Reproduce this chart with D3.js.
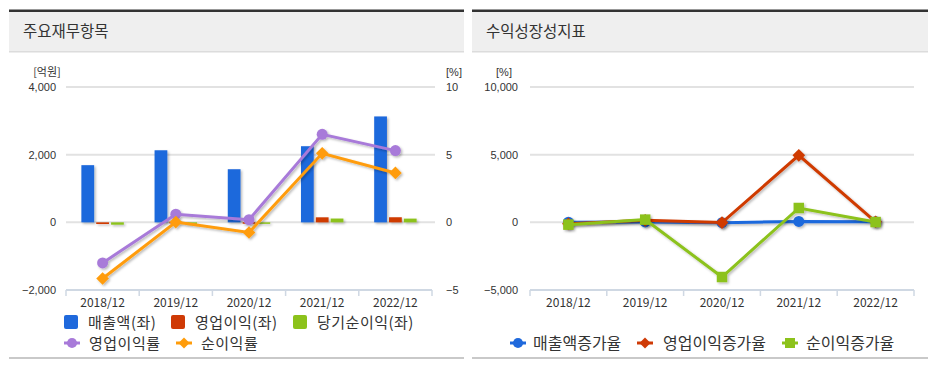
<!DOCTYPE html>
<html><head><meta charset="utf-8">
<script src="https://cdn.jsdelivr.net/npm/d3@7"></script>
<style>
html,body{margin:0;padding:0;background:#fff;}
svg{display:block;font-family:"Noto Sans CJK KR","Noto Sans",sans-serif;}
</style></head>
<body><svg id="c" width="930" height="366"></svg>
<script>
const categories = ['2018/12','2019/12','2020/12','2021/12','2022/12'];
// left panel (억원)
const revenue   = [1690, 2130, 1570, 2250, 3130];
const opIncome  = [-50, 12, 3, 148, 150];
const netIncome = [-70, 0, -12, 112, 110];
// left panel (%)
const opMargin  = [-3.0, 0.6, 0.2, 6.5, 5.3];
const netMargin = [-4.15, 0.02, -0.75, 5.1, 3.65];
const leftTicks  = [-2000, 0, 2000, 4000];
const rightTicks = [-5, 0, 5, 10];
// right panel (%)
const revGrowth = [10, 26, -26, 70, 39];
const opGrowth  = [-110, 150, -20, 4950, 40];
const netGrowth = [-170, 200, -4040, 1060, 20];
const growthTicks = [-5000, 0, 5000, 10000];

const C = {blue:'#1f69dc', red:'#cf3a06', green:'#8cc21b', purple:'#a87ad9', orange:'#ff9c0a'};
const svg = d3.select('#c');
const defs = svg.append('defs');
const f = defs.append('filter').attr('id','sh').attr('x','-30%').attr('y','-30%').attr('width','160%').attr('height','160%');
f.append('feDropShadow').attr('dx',1.5).attr('dy',1.5).attr('stdDeviation',1).attr('flood-color','#000').attr('flood-opacity',0.28);

function panel(x0, x1, title){
  const g = svg.append('g');
  g.append('rect').attr('x',x0).attr('y',12).attr('width',x1-x0).attr('height',40).attr('fill','#efefef');
  g.append('rect').attr('x',x0).attr('y',9.5).attr('width',x1-x0).attr('height',2.5).attr('fill','#333');
  g.append('rect').attr('x',x0).attr('y',51).attr('width',x1-x0).attr('height',1.5).attr('fill','#dcdcdc');
  g.append('rect').attr('x',x0).attr('y',357).attr('width',x1-x0).attr('height',2).attr('fill','#c9c9c9');
  g.append('text').attr('x',x0+14).attr('y',37).attr('font-size',15.5).attr('fill','#333').text(title);
}
panel(9, 464, '주요재무항목');
panel(472, 928, '수익성장성지표');

function xAxis(x, yBase){
  const g = svg.append('g');
  g.append('line').attr('x1',x.range()[0]).attr('x2',x.range()[1]).attr('y1',yBase).attr('y2',yBase)
    .attr('stroke','#cfd8e3').attr('stroke-width',2);
  const bounds = categories.map(c=>x(c)).concat([x.range()[1]]);
  g.selectAll('.tk').data(bounds).join('line').attr('x1',d=>d).attr('x2',d=>d)
    .attr('y1',yBase).attr('y2',yBase+6).attr('stroke','#cfd8e3').attr('stroke-width',1.5);
  g.selectAll('.lb').data(categories).join('text').attr('x',d=>x(d)+x.bandwidth()/2).attr('y',yBase+17)
    .attr('text-anchor','middle').attr('font-size',12).attr('fill','#333').text(d=>d);
}
function grid(y, ticks, xr){
  svg.append('g').selectAll('line').data(ticks.filter(t=>t!==ticks[0])).join('line')
    .attr('x1',xr[0]).attr('x2',xr[1]).attr('y1',d=>y(d)).attr('y2',d=>y(d))
    .attr('stroke','#e2e2e2').attr('stroke-width',2);
}
const fmt = d3.format(',');
const tickFont = '"Liberation Sans",Arial,sans-serif';

// marker shapes
function markerPath(shape, s){
  if(shape==='circle') return d3.symbol().type(d3.symbolCircle).size(s)();
  if(shape==='square') return d3.symbol().type(d3.symbolSquare).size(s)();
  const h = Math.sqrt(s*2)/2; // diamond = rotated square
  return `M0,${-h}L${h},0L0,${h}L${-h},0Z`;
}
const mSize = {circle:95, square:110, diamond:80};

// ---------- LEFT ----------
const xL = d3.scaleBand().domain(categories).range([66, 432]);
const yL = d3.scaleLinear().domain([-2000, 4000]).range([290, 87]);
const yLR = d3.scaleLinear().domain([-5, 10]).range([290, 87]);
grid(yL, leftTicks, [66, 435]);
xAxis(xL, 290);
svg.append('g').selectAll('text').data(leftTicks).join('text').attr('x',56).attr('y',d=>yL(d)+4)
  .attr('text-anchor','end').attr('font-size',11).attr('font-family',tickFont).attr('fill','#333').text(d=>fmt(d));
svg.append('g').selectAll('text').data(rightTicks).join('text').attr('x',446).attr('y',d=>yLR(d)+4)
  .attr('text-anchor','start').attr('font-size',11).attr('font-family',tickFont).attr('fill','#333').text(d=>fmt(d));
svg.append('text').attr('x',47).attr('y',76).attr('text-anchor','middle').attr('font-size',11).attr('fill','#333').text('[억원]');
svg.append('text').attr('x',454).attr('y',76).attr('text-anchor','middle').attr('font-size',11).attr('font-family',tickFont).attr('fill','#333').text('[%]');

const barSeries = [{v:revenue,c:C.blue},{v:opIncome,c:C.red},{v:netIncome,c:C.green}];
const bw = xL.bandwidth();
const xi = d3.scaleBand().domain([0,1,2]).range([bw*0.21, bw*0.79]).paddingInner(0.14);
const bars = svg.append('g').attr('filter','url(#sh)');
barSeries.forEach((s,si)=>{
  bars.selectAll(null).data(s.v).join('rect')
    .attr('x',(d,i)=>xL(categories[i])+xi(si)).attr('width',xi.bandwidth())
    .attr('y',d=>Math.min(yL(d),yL(0))).attr('height',d=>Math.max(1.5,Math.abs(yL(d)-yL(0))))
    .attr('fill',s.c);
});
const cx = (d,i)=>xL(categories[i])+bw/2;
function lineSeries(vals, y, color, shape, xs){
  const g = svg.append('g').attr('filter','url(#sh)');
  const line = d3.line().x((d,i)=>xs(d,i)).y(d=>y(d));
  g.append('path').attr('d',line(vals)).attr('fill','none').attr('stroke',color).attr('stroke-width',3);
  g.selectAll(null).data(vals).join('path')
    .attr('transform',(d,i)=>`translate(${xs(d,i)},${y(d)})`)
    .attr('d',markerPath(shape, mSize[shape]))
    .attr('fill',color);
}
lineSeries(opMargin, yLR, C.purple, 'circle', cx);
lineSeries(netMargin, yLR, C.orange, 'diamond', cx);

// legend
function legendSquare(x, y, color, label){
  svg.append('rect').attr('x',x).attr('y',y-7).attr('width',14).attr('height',14).attr('rx',2).attr('fill',color);
  svg.append('text').attr('x',x+24).attr('y',y+5.5).attr('font-size',15).attr('letter-spacing',0.5).attr('fill','#333').text(label);
}
function legendLine(x, y, color, shape, label, tx, fs){
  svg.append('line').attr('x1',x).attr('x2',x+16).attr('y1',y).attr('y2',y).attr('stroke',color).attr('stroke-width',3);
  svg.append('path').attr('transform',`translate(${x+8},${y})`)
    .attr('d',markerPath(shape, shape==='circle'?80:(shape==='square'?100:60))).attr('fill',color);
  svg.append('text').attr('x',x+(tx||25)).attr('y',y+5.5).attr('font-size',fs||15).attr('letter-spacing',fs?0:0.5).attr('fill','#333').text(label);
}
legendSquare(64, 322, C.blue, '매출액(좌)');
legendSquare(171, 322, C.red, '영업이익(좌)');
legendSquare(293, 322, C.green, '당기순이익(좌)');
legendLine(64, 343, C.purple, 'circle', '영업이익률');
legendLine(176, 343, C.orange, 'diamond', '순이익률');

// ---------- RIGHT ----------
const xR = d3.scaleBand().domain(categories).range([530, 914]);
const yG = d3.scaleLinear().domain([-5000, 10000]).range([290, 87]);
grid(yG, growthTicks, [530, 914]);
xAxis(xR, 290);
svg.append('g').selectAll('text').data(growthTicks).join('text').attr('x',518).attr('y',d=>yG(d)+4)
  .attr('text-anchor','end').attr('font-size',11).attr('font-family',tickFont).attr('fill','#333').text(d=>fmt(d));
svg.append('text').attr('x',504).attr('y',76).attr('text-anchor','middle').attr('font-size',11).attr('font-family',tickFont).attr('fill','#333').text('[%]');
const cxR = (d,i)=>xR(categories[i])+xR.bandwidth()/2;
lineSeries(revGrowth, yG, C.blue, 'circle', cxR);
lineSeries(opGrowth, yG, C.red, 'diamond', cxR);
lineSeries(netGrowth, yG, C.green, 'square', cxR);

legendLine(510, 343, C.blue, 'circle', '매출액증가율', 23, 16);
legendLine(637, 343, C.red, 'diamond', '영업이익증가율', 26, 16);
legendLine(782, 343, C.green, 'square', '순이익증가율', 24, 16);
</script></body></html>
